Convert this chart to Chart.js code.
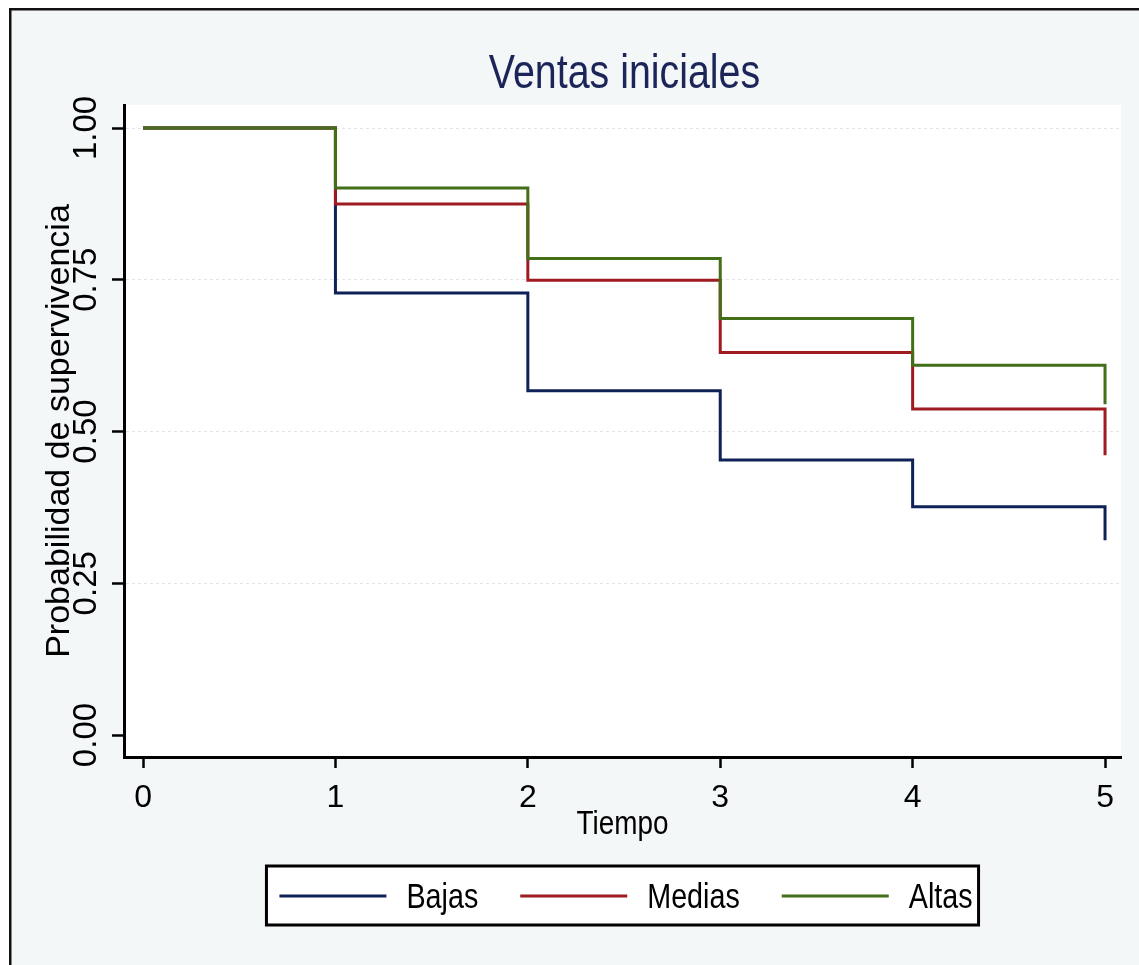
<!DOCTYPE html>
<html><head><meta charset="utf-8">
<script src="https://cdn.jsdelivr.net/npm/chart.js@4/dist/chart.umd.min.js"></script>
<style>html,body{margin:0;padding:0;background:#fff;overflow:hidden}#wrap{width:1139px;height:965px}</style>
</head><body><div id="wrap"><canvas id="c" width="1139" height="965" style="width:1139px;height:965px"></canvas></div>
<script>
// ---- data ----
const times = [0, 1, 2, 3, 4, 5];
const bajas = [1.000, 0.728, 0.567, 0.453, 0.376, 0.321];
const medias = [1.000, 0.875, 0.749, 0.630, 0.537, 0.461];
const altas = [1.000, 0.901, 0.785, 0.686, 0.609, 0.545];
const seriesNames = ['Bajas', 'Medias', 'Altas'];
const yTickValues = [0, 0.25, 0.5, 0.75, 1.0];
const yTickLabels = ['0.00', '0.25', '0.50', '0.75', '1.00'];
const xTickValues = [0, 1, 2, 3, 4, 5];
const xTickLabels = ['0', '1', '2', '3', '4', '5'];
const chartTitle = 'Ventas iniciales';
const xAxisTitle = 'Tiempo';
const yAxisTitle = 'Probabilidad de supervivencia';

// ---- styles ----
const REG = "'Liberation Sans', Arial, sans-serif";
const colors = ['#0f2257', '#9e1b21', '#426f17'];
const BG = '#f3f7f8';
const SX = 0.82; // horizontal squeeze of horizontal texts (as in the reference)

const pts = arr => times.map((t, i) => ({x: t, y: arr[i]}));

function squeezedText(ctx, text, x, y, align) {
  ctx.save();
  ctx.translate(x, y);
  ctx.scale(SX, 1);
  ctx.textAlign = align;
  ctx.textBaseline = 'alphabetic';
  ctx.fillText(text, 0, 0);
  ctx.restore();
}

const framePlugin = {
  id: 'frame',
  beforeDraw(chart) {
    const ctx = chart.ctx, a = chart.chartArea;
    ctx.save();
    ctx.fillStyle = '#ffffff';
    ctx.fillRect(0, 0, chart.width, chart.height);
    ctx.fillStyle = BG;
    ctx.fillRect(10, 9, chart.width - 10, chart.height - 9);
    ctx.fillStyle = '#111';
    ctx.fillRect(9, 8, chart.width - 9, 2.5);
    ctx.fillRect(9, 8, 2.5, chart.height - 8);
    ctx.fillStyle = '#ffffff';
    ctx.fillRect(a.left, a.top, a.right - a.left, a.bottom - a.top);
    ctx.restore();
  },
  afterDraw(chart) {
    const ctx = chart.ctx, a = chart.chartArea;
    const cx = (a.left + a.right) / 2;
    ctx.save();
    // chart title
    ctx.fillStyle = '#1c2558';
    ctx.font = "48px " + REG;
    squeezedText(ctx, chartTitle, cx + 2, 88, 'center');
    // x axis title
    ctx.fillStyle = '#000';
    ctx.font = "34px " + REG;
    squeezedText(ctx, xAxisTitle, cx, 834, 'center');
    // legend
    ctx.font = "35px " + REG;
    const ds = chart.data.datasets;
    const lineLen = 107, gapText = 20, gapItem = 42, padL = 13, padR = 6;
    const widths = ds.map(d => ctx.measureText(d.label).width * SX);
    let total = padL + padR;
    widths.forEach((w, i) => { total += lineLen + gapText + w + (i < ds.length - 1 ? gapItem : 0); });
    const bx = cx - total / 2, by = 866, bh = 59;
    ctx.fillStyle = '#ffffff';
    ctx.fillRect(bx, by, total, bh);
    ctx.lineWidth = 3;
    ctx.strokeStyle = '#000';
    ctx.strokeRect(bx, by, total, bh);
    let x = bx + padL;
    const ly = 896;
    ds.forEach((d, i) => {
      ctx.strokeStyle = d.borderColor;
      ctx.lineWidth = 3;
      ctx.beginPath();
      ctx.moveTo(x, ly);
      ctx.lineTo(x + lineLen, ly);
      ctx.stroke();
      x += lineLen + gapText;
      ctx.fillStyle = '#000';
      squeezedText(ctx, d.label, x, ly + 12, 'left');
      x += widths[i] + gapItem;
    });
    ctx.restore();
  }
};

const chart = new Chart(document.getElementById('c'), {
  type: 'line',
  data: {
    datasets: [
      {label: seriesNames[0], data: pts(bajas), borderColor: colors[0], order: 3},
      {label: seriesNames[1], data: pts(medias), borderColor: colors[1], order: 2},
      {label: seriesNames[2], data: pts(altas), borderColor: colors[2], order: 1}
    ].map(d => Object.assign(d, {borderWidth: 3, pointRadius: 0, stepped: 'before', fill: false, tension: 0}))
  },
  options: {
    responsive: false,
    animation: false,
    devicePixelRatio: 1,
    layout: {padding: {left: 12, top: 105, right: 18, bottom: 0}},
    plugins: {legend: {display: false}, tooltip: {enabled: false}, title: {display: false}},
    scales: {
      x: {
        type: 'linear',
        min: -0.099, max: 5.083,
        afterBuildTicks: s => { s.ticks = xTickValues.map(v => ({value: v})); },
        afterFit: s => { s.height = 208; },
        ticks: {
          autoSkip: false, maxRotation: 0, minRotation: 0, padding: 11, color: '#000',
          font: {family: REG, size: 32},
          callback: (v) => xTickLabels[xTickValues.indexOf(v)]
        },
        grid: {drawOnChartArea: false, color: 'transparent', tickLength: 11, tickWidth: 2.5, tickColor: '#000'},
        border: {display: true, color: '#000', width: 3},
        title: {display: false}
      },
      y: {
        type: 'linear',
        min: -0.0362, max: 1.0379,
        afterBuildTicks: s => { s.ticks = yTickValues.map(v => ({value: v})); },
        afterFit: s => { s.width = 112; },
        ticks: {
          autoSkip: false, minRotation: 90, maxRotation: 90, crossAlign: 'center', padding: -7, color: '#000',
          font: {family: REG, size: 33},
          callback: (v) => yTickLabels[yTickValues.indexOf(v)]
        },
        grid: {
          drawOnChartArea: true, lineWidth: 1, tickLength: 12, tickWidth: 2.5, tickColor: '#000',
          tickBorderDash: [],
          color: c => (c.tick && c.tick.value === 0) ? 'transparent' : '#dfe5e8'
        },
        border: {display: true, color: '#000', width: 3, dash: [3, 3]},
        title: {display: true, text: yAxisTitle, color: '#000', font: {family: REG, size: 34}, padding: {top: 27, bottom: 0}}
      }
    }
  },
  plugins: [framePlugin]
});
</script>
</body></html>
